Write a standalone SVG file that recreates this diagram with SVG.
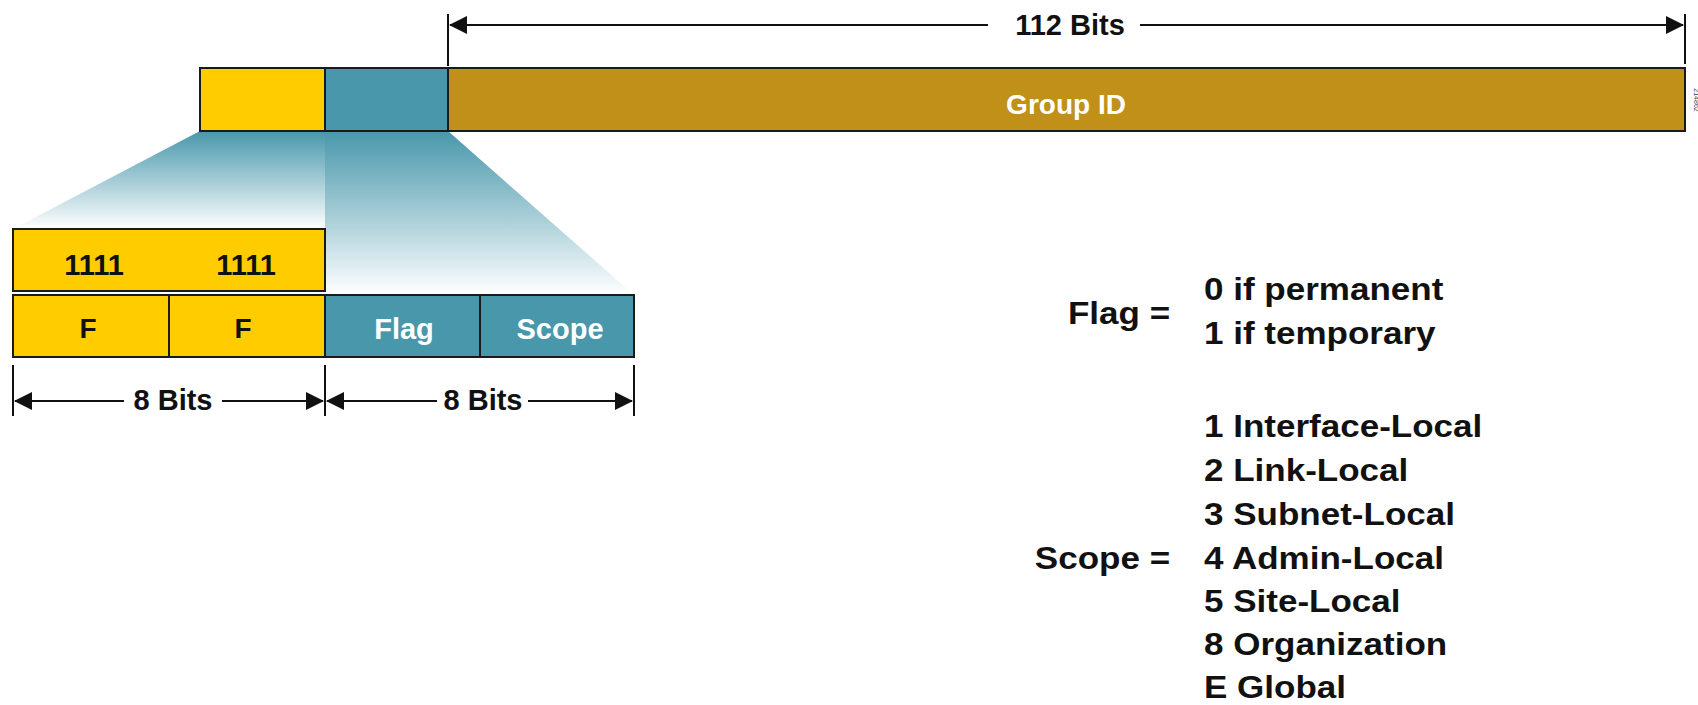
<svg xmlns="http://www.w3.org/2000/svg" width="1698" height="705" viewBox="0 0 1698 705">
<style>
.box{stroke:#1a1a1a;stroke-width:2}
.y{fill:#FFCC00}
.t{fill:#4897AB}
.b{fill:#C09018}
.txt{font-family:"Liberation Sans",Arial,sans-serif;font-weight:bold}
.blk{fill:#111}
.wht{fill:#fff}
.dim{stroke:#111;stroke-width:2;fill:none}
</style>
<defs>
<linearGradient id="fadeL" x1="0" y1="131" x2="0" y2="229" gradientUnits="userSpaceOnUse">
<stop offset="0" stop-color="#4897AB"/>
<stop offset="1" stop-color="#4897AB" stop-opacity="0"/>
</linearGradient>
<linearGradient id="fadeR" x1="0" y1="131" x2="0" y2="295" gradientUnits="userSpaceOnUse">
<stop offset="0" stop-color="#4897AB"/>
<stop offset="1" stop-color="#4897AB" stop-opacity="0"/>
</linearGradient>
<marker id="ah" markerWidth="18" markerHeight="18" refX="17" refY="9" orient="auto-start-reverse" markerUnits="userSpaceOnUse">
<path d="M0,0 L18,9 L0,18 Z" fill="#111"/>
</marker>
</defs>
<rect width="1698" height="705" fill="#fff"/>

<g id="expansion">
<polygon points="200,131 325,131 325,229 13,229" fill="url(#fadeL)"/>
<polygon points="325,131 448,131 634,295 325,295" fill="url(#fadeR)"/>
</g>

<g id="prefix-ff"><rect class="box y" x="200" y="68" width="125" height="63"/></g>
<g id="prefix-flagscope"><rect class="box t" x="325" y="68" width="123" height="63"/></g>
<g id="group-id">
<rect class="box b" x="448" y="68" width="1237" height="63"/>
<text class="txt wht" x="1066" y="114" font-size="28" text-anchor="middle">Group ID</text>
</g>

<g id="bits-1111">
<rect class="box y" x="13" y="229" width="312" height="62"/>
<text class="txt blk" x="94" y="275" font-size="29" text-anchor="middle">1111</text>
<text class="txt blk" x="246" y="275" font-size="29" text-anchor="middle">1111</text>
</g>
<g id="field-f1">
<rect class="box y" x="13" y="295" width="156" height="62"/>
<text class="txt blk" x="88" y="338" font-size="28" text-anchor="middle">F</text>
</g>
<g id="field-f2">
<rect class="box y" x="169" y="295" width="156" height="62"/>
<text class="txt blk" x="243" y="338" font-size="28" text-anchor="middle">F</text>
</g>
<g id="field-flag">
<rect class="box t" x="325" y="295" width="155" height="62"/>
<text class="txt wht" x="404" y="339" font-size="29" text-anchor="middle">Flag</text>
</g>
<g id="field-scope">
<rect class="box t" x="480" y="295" width="154" height="62"/>
<text class="txt wht" x="560" y="339" font-size="29" text-anchor="middle">Scope</text>
</g>

<g id="connectors">
<line class="dim" x1="448" y1="14" x2="448" y2="66"/>
<line class="dim" x1="1685" y1="14" x2="1685" y2="64"/>
<line class="dim" x1="988" y1="25" x2="450" y2="25" marker-end="url(#ah)"/>
<line class="dim" x1="1140" y1="25" x2="1683" y2="25" marker-end="url(#ah)"/>

<line class="dim" x1="13" y1="365" x2="13" y2="416"/>
<line class="dim" x1="325" y1="365" x2="325" y2="416"/>
<line class="dim" x1="634" y1="365" x2="634" y2="416"/>
<line class="dim" x1="124" y1="401" x2="15" y2="401" marker-end="url(#ah)"/>
<line class="dim" x1="222" y1="401" x2="323" y2="401" marker-end="url(#ah)"/>
<line class="dim" x1="437" y1="401" x2="327" y2="401" marker-end="url(#ah)"/>
<line class="dim" x1="528" y1="401" x2="632" y2="401" marker-end="url(#ah)"/>
</g>

<g id="dim-labels">
<text class="txt blk" x="1070" y="35" font-size="29" text-anchor="middle">112 Bits</text>
<text class="txt blk" x="173" y="410" font-size="29" text-anchor="middle">8 Bits</text>
<text class="txt blk" x="483" y="410" font-size="29" text-anchor="middle">8 Bits</text>
</g>

<g id="legend" class="txt blk" font-size="31">
<g transform="translate(1204,0) scale(1.13,1)">
<text x="-30" y="324" text-anchor="end">Flag =</text>
<text x="0" y="300">0 if permanent</text>
<text x="0" y="344">1 if temporary</text>
<text x="-30" y="569" text-anchor="end">Scope =</text>
<text x="0" y="437">1 Interface-Local</text>
<text x="0" y="481">2 Link-Local</text>
<text x="0" y="525">3 Subnet-Local</text>
<text x="0" y="569">4 Admin-Local</text>
<text x="0" y="612">5 Site-Local</text>
<text x="0" y="655">8 Organization</text>
<text x="0" y="698">E Global</text>
</g>
</g>

<g id="figure-id">
<text x="1694" y="100" font-family="Liberation Sans, Arial, sans-serif" font-size="7" fill="#444" text-anchor="middle" transform="rotate(90 1694 100)">214862</text>
</g>
</svg>
